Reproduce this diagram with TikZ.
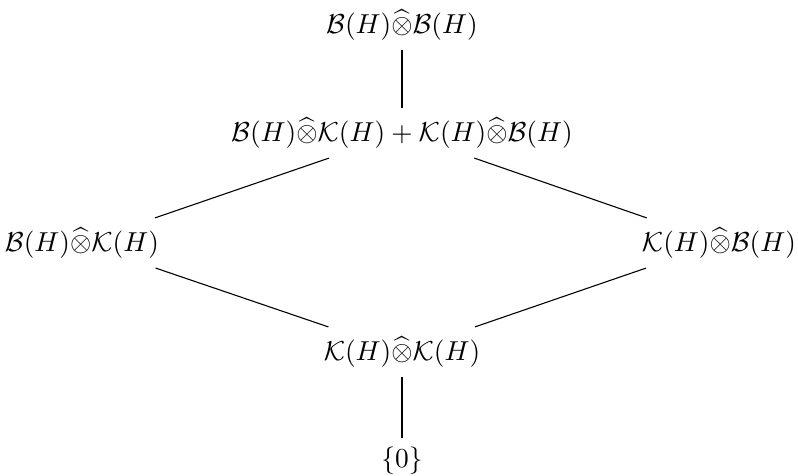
\documentclass[tikz,border=0pt]{standalone}
\usepackage{amsmath}
\usepackage{amssymb}

\newcommand{\ptens}{\widehat{\otimes}}

\begin{document}
\begin{tikzpicture}[
        x=0.365pt, y=-0.365pt,
        ideal/.style={inner sep=3.33pt},
        link/.style={thin}
    ]
        \useasboundingbox (0,0) rectangle (798,476);

        % Nodes
        \node[ideal] (bb) at (402, 25) {$\mathcal{B}(H)\ptens\mathcal{B}(H)$};
        \node[ideal] (sum) at (402, 133) {$\mathcal{B}(H)\ptens\mathcal{K}(H)+\mathcal{K}(H)\ptens\mathcal{B}(H)$};
        \node[ideal] (bk) at (82, 243) {$\mathcal{B}(H)\ptens\mathcal{K}(H)$};
        \node[ideal] (kb) at (719, 243) {$\mathcal{K}(H)\ptens\mathcal{B}(H)$};
        \node[ideal] (kk) at (402, 352) {$\mathcal{K}(H)\ptens\mathcal{K}(H)$};
        \node[ideal] (zero) at (402, 461) {$\{0\}$};

        % Edges
        \draw[link] (bb) -- (sum);
        \draw[link] (sum) -- (bk);
        \draw[link] (sum) -- (kb);
        \draw[link] (bk) -- (kk);
        \draw[link] (kb) -- (kk);
        \draw[link] (kk) -- (zero);

    \end{tikzpicture}
\end{document}
